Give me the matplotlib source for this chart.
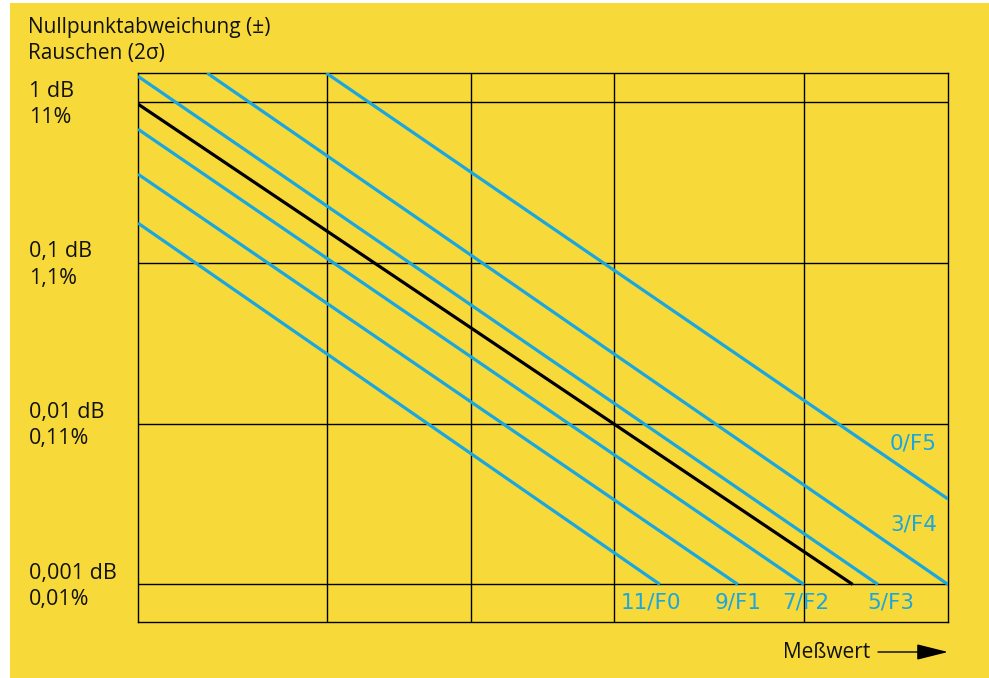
import numpy as np
import matplotlib
matplotlib.use('Agg')
import matplotlib.pyplot as plt
from matplotlib.patches import Rectangle

plt.rcParams['font.family'] = ['Open Sans', 'DejaVu Sans']

# Messwert-Achse in Dekaden (relativ), Fehler in dB (log)
x_grid = [0.793, 1.398, 2.0, 2.795]
y_grid = [1, 0.1, 0.01, 0.001]
y_labels_db = ['1 dB', '0,1 dB', '0,01 dB', '0,001 dB']
y_labels_pct = ['11%', '1,1%', '0,11%', '0,01%']

# Kennlinien (Anfangs- und Endpunkte)
line_labels = ['0/F5', '3/F4', '5/F3', '7/F2', '9/F1', '11/F0']
x_start = [0.79, 0.29, 0.0, 0.0, 0.0, 0.0]
y_start = [1.52, 1.52, 1.45, 0.68, 0.357, 0.177]
x_end = [3.4, 3.4, 3.106, 2.795, 2.518, 2.191]
y_end = [0.0034, 0.001, 0.001, 0.001, 0.001, 0.001]

# Referenzlinie (schwarz)
ref_x = [0.0, 3.0]
ref_y = [0.974, 0.001]

yellow = '#f7da3a'
blue = '#1aa6de'
ink = '#111111'

fig = plt.figure(figsize=(9.89, 6.78), dpi=100)
fig.patch.set_facecolor('white')
fig.patches.append(Rectangle((10 / 989, 0), 1, 675 / 678, transform=fig.transFigure,
                             facecolor=yellow, edgecolor='none', zorder=-10))

ax = fig.add_axes([138 / 989, 56 / 678, 810 / 989, 549 / 678])
ax.set_facecolor(yellow)
ax.set_yscale('log')
ax.set_xlim(0, 3.4)
ax.set_ylim(0.000584, 1.52)

for xv in x_grid:
    ax.axvline(xv, color='black', lw=1.0, zorder=1)
for yv in y_grid:
    ax.axhline(yv, color='black', lw=1.0, zorder=1)

for i in range(len(line_labels)):
    ax.plot([x_start[i], x_end[i]], [y_start[i], y_end[i]], color=blue, lw=2.3,
            solid_capstyle='butt', zorder=3)
ax.plot(ref_x, ref_y, color='black', lw=2.3, solid_capstyle='butt', zorder=4)

# Beschriftung der Kennlinien
lab_x = [3.354, 3.354, 3.161, 2.804, 2.52, 2.151]
lab_y = [0.0075, 0.00235, 0.000767, 0.000767, 0.000767, 0.000767]
lab_ha = ['right', 'right', 'center', 'center', 'center', 'center']
for i in range(len(line_labels)):
    ax.text(lab_x[i], lab_y[i], line_labels[i], color=blue, fontsize=15.5,
            family=['DejaVu Sans'], ha=lab_ha[i], va='center', zorder=5)

ax.set_xticks([])
ax.set_yticks([])
ax.minorticks_off()
for s in ax.spines.values():
    s.set_linewidth(1.0)
    s.set_color('black')

# Y-Beschriftungen links
for yv, t1, t2 in zip(y_grid, y_labels_db, y_labels_pct):
    ax.annotate(t1, xy=(29 / 989, yv), xycoords=('figure fraction', 'data'),
                xytext=(0, 8), textcoords='offset points', ha='left', va='center',
                fontsize=15.5, color=ink)
    ax.annotate(t2, xy=(29 / 989, yv), xycoords=('figure fraction', 'data'),
                xytext=(0, -11), textcoords='offset points', ha='left', va='center',
                fontsize=15.5, color=ink)

fig.text(28 / 989, 1 - 28 / 678, 'Nullpunktabweichung (±)', fontsize=15,
         ha='left', va='center', color=ink)
fig.text(28 / 989, 1 - 53 / 678, 'Rauschen (2σ)', fontsize=15,
         ha='left', va='center', color=ink)

fig.text(870 / 989, 1 - 652 / 678, 'Meßwert', fontsize=15, ha='right',
         va='center', color=ink)
ax.annotate('', xy=(948 / 989, 1 - 652 / 678), xytext=(878 / 989, 1 - 652 / 678),
            xycoords='figure fraction',
            arrowprops=dict(arrowstyle='-|>,head_length=1.4,head_width=0.35',
                            lw=1.0, color='black', mutation_scale=14,
                            shrinkA=0, shrinkB=0))

fig.savefig('out.png', dpi=100, facecolor='white')
